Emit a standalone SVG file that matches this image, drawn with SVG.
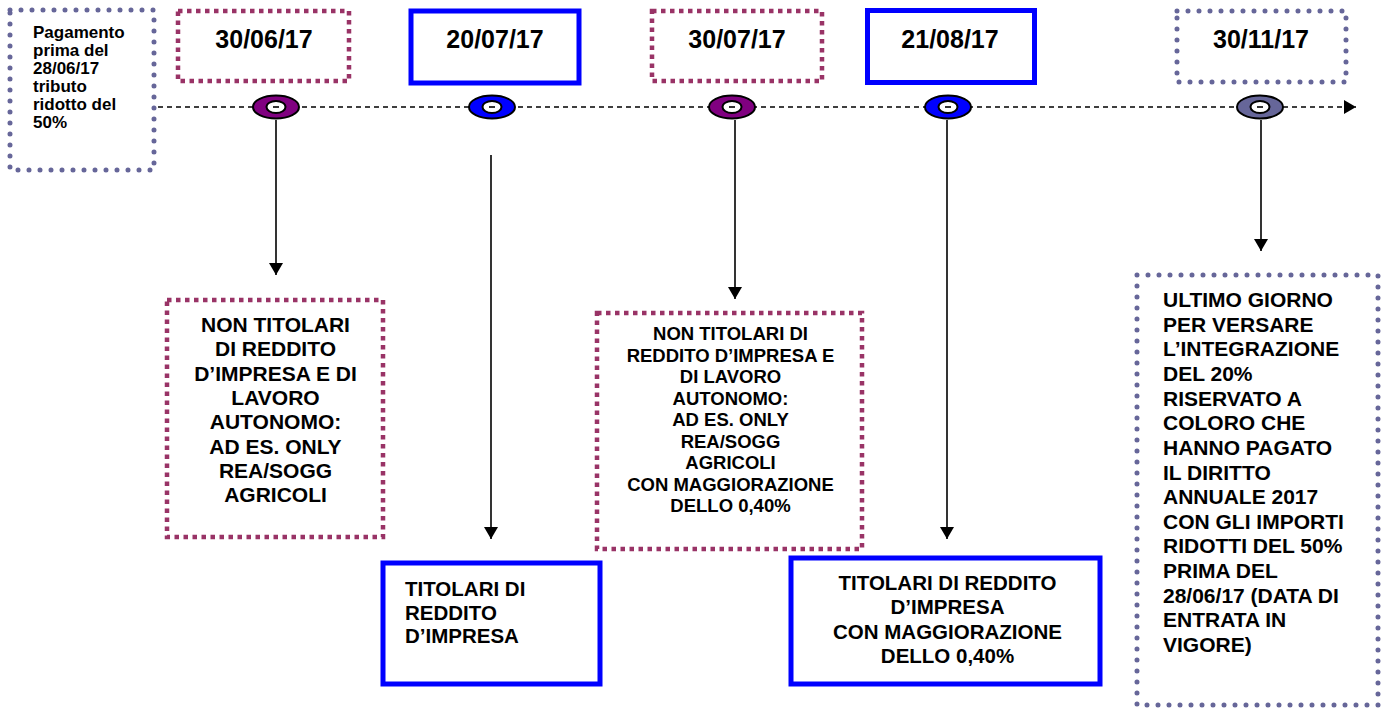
<svg xmlns="http://www.w3.org/2000/svg" width="1383" height="709" viewBox="0 0 1383 709">
<defs>
<style>
text{font-family:"Liberation Sans",Arial,Helvetica,sans-serif;font-weight:bold;fill:#000}
.date{font-size:25px;text-anchor:middle}
.sq{fill:none;stroke:#993366;stroke-width:4.5;stroke-dasharray:4.5 4.5}
.rd{fill:none;stroke:#666699;stroke-width:5;stroke-linecap:round;stroke-dasharray:0 11}
.bl{fill:none;stroke:#0000ff;stroke-width:5}
.conn{stroke:#000;stroke-width:1.6;fill:none}
.outer{stroke:#000;stroke-width:2}
.inner{fill:#fff;stroke:#000;stroke-width:2}
</style>
<marker id="ah" viewBox="0 0 12 14" refX="12" refY="7" markerWidth="12" markerHeight="14" markerUnits="userSpaceOnUse" orient="auto">
<path d="M0,0 L12,7 L0,14 Z" fill="#000"/>
</marker>
</defs>
<rect width="1383" height="709" fill="#fff"/>

<g id="connectors">
<line class="conn" x1="158" y1="107" x2="1356" y2="107" stroke-dasharray="5 4" marker-end="url(#ah)"/>
<line class="conn" x1="276" y1="120" x2="276" y2="275" marker-end="url(#ah)"/>
<line class="conn" x1="491" y1="155" x2="491" y2="539" marker-end="url(#ah)"/>
<line class="conn" x1="735" y1="120" x2="735" y2="299" marker-end="url(#ah)"/>
<line class="conn" x1="947" y1="120" x2="947" y2="539" marker-end="url(#ah)"/>
<line class="conn" x1="1261" y1="120" x2="1261" y2="251" marker-end="url(#ah)"/>
</g>

<g id="m1"><ellipse class="outer" cx="276" cy="107" rx="23" ry="11.5" fill="#800080"/><ellipse class="inner" cx="276" cy="107" rx="9.5" ry="6"/><line x1="273" y1="107" x2="279" y2="107" stroke="#000" stroke-width="1.6"/></g>
<g id="m2"><ellipse class="outer" cx="492" cy="107" rx="23" ry="11.5" fill="#0000ff"/><ellipse class="inner" cx="492" cy="107" rx="9.5" ry="6"/><line x1="489" y1="107" x2="495" y2="107" stroke="#000" stroke-width="1.6"/></g>
<g id="m3"><ellipse class="outer" cx="732" cy="107" rx="23" ry="11.5" fill="#800080"/><ellipse class="inner" cx="732" cy="107" rx="9.5" ry="6"/><line x1="729" y1="107" x2="735" y2="107" stroke="#000" stroke-width="1.6"/></g>
<g id="m4"><ellipse class="outer" cx="948" cy="107" rx="23" ry="11.5" fill="#0000ff"/><ellipse class="inner" cx="948" cy="107" rx="9.5" ry="6"/><line x1="945" y1="107" x2="951" y2="107" stroke="#000" stroke-width="1.6"/></g>
<g id="m5"><ellipse class="outer" cx="1260" cy="107" rx="23" ry="11.5" fill="#666699"/><ellipse class="inner" cx="1260" cy="107" rx="9.5" ry="6"/><line x1="1257" y1="107" x2="1263" y2="107" stroke="#000" stroke-width="1.6"/></g>

<g id="note">
<rect class="rd" x="10" y="10" width="144" height="160"/>
<text font-size="17"><tspan x="33" y="37.5">Pagamento</tspan><tspan x="33" y="55.5">prima del</tspan><tspan x="33" y="73.5">28/06/17</tspan><tspan x="33" y="91.5">tributo</tspan><tspan x="33" y="109.5">ridotto del</tspan><tspan x="33" y="127.5">50%</tspan></text>
</g>

<g id="d1"><rect class="sq" x="178" y="11" width="171" height="70"/><text class="date" x="264" y="48">30/06/17</text></g>
<g id="d2"><rect class="bl" x="411" y="11" width="168" height="72"/><text class="date" x="495" y="48">20/07/17</text></g>
<g id="d3"><rect class="sq" x="652" y="11" width="170" height="70"/><text class="date" x="737" y="48">30/07/17</text></g>
<g id="d4"><rect class="bl" x="867.5" y="10.5" width="167" height="72"/><text class="date" x="950" y="48">21/08/17</text></g>
<g id="d5"><rect class="rd" x="1177" y="11" width="169" height="71"/><text class="date" x="1261" y="48">30/11/17</text></g>

<g id="b1">
<rect class="sq" x="167" y="300" width="216" height="237"/>
<text font-size="21" text-anchor="middle"><tspan x="275.5" y="332">NON TITOLARI</tspan><tspan x="275.5" y="356.3">DI REDDITO</tspan><tspan x="275.5" y="380.6">D’IMPRESA E DI</tspan><tspan x="275.5" y="404.9">LAVORO</tspan><tspan x="275.5" y="429.2">AUTONOMO:</tspan><tspan x="275.5" y="453.5">AD ES. ONLY</tspan><tspan x="275.5" y="477.8">REA/SOGG</tspan><tspan x="275.5" y="502">AGRICOLI</tspan></text>
</g>

<g id="b2">
<rect class="sq" x="597" y="313" width="265" height="236"/>
<text font-size="18.5" text-anchor="middle"><tspan x="730.5" y="340">NON TITOLARI DI</tspan><tspan x="730.5" y="361.5">REDDITO D’IMPRESA E</tspan><tspan x="730.5" y="383">DI LAVORO</tspan><tspan x="730.5" y="404.5">AUTONOMO:</tspan><tspan x="730.5" y="426">AD ES. ONLY</tspan><tspan x="730.5" y="447.5">REA/SOGG</tspan><tspan x="730.5" y="469">AGRICOLI</tspan><tspan x="730.5" y="490.5">CON MAGGIORAZIONE</tspan><tspan x="730.5" y="512">DELLO 0,40%</tspan></text>
</g>

<g id="b3">
<rect class="bl" x="383" y="563" width="217" height="121"/>
<text font-size="20.5"><tspan x="405" y="596">TITOLARI DI</tspan><tspan x="405" y="619.5">REDDITO</tspan><tspan x="405" y="643">D’IMPRESA</tspan></text>
</g>

<g id="b4">
<rect class="bl" x="791" y="558" width="309" height="126"/>
<text font-size="20.5" text-anchor="middle"><tspan x="947.5" y="590">TITOLARI DI REDDITO</tspan><tspan x="947.5" y="614">D’IMPRESA</tspan><tspan x="947.5" y="638.5">CON MAGGIORAZIONE</tspan><tspan x="947.5" y="662.5">DELLO 0,40%</tspan></text>
</g>

<g id="b5">
<rect class="rd" x="1137" y="275" width="241" height="430"/>
<text font-size="21"><tspan x="1163" y="307">ULTIMO GIORNO</tspan><tspan x="1163" y="331.6">PER VERSARE</tspan><tspan x="1163" y="356.3">L’INTEGRAZIONE</tspan><tspan x="1163" y="380.9">DEL 20%</tspan><tspan x="1163" y="405.6">RISERVATO A</tspan><tspan x="1163" y="430.2">COLORO CHE</tspan><tspan x="1163" y="454.8">HANNO PAGATO</tspan><tspan x="1163" y="479.5">IL DIRITTO</tspan><tspan x="1163" y="504.1">ANNUALE 2017</tspan><tspan x="1163" y="528.8">CON GLI IMPORTI</tspan><tspan x="1163" y="553.4">RIDOTTI DEL 50%</tspan><tspan x="1163" y="578">PRIMA DEL</tspan><tspan x="1163" y="602.7">28/06/17 (DATA DI</tspan><tspan x="1163" y="627.3">ENTRATA IN</tspan><tspan x="1163" y="652">VIGORE)</tspan></text>
</g>
</svg>
